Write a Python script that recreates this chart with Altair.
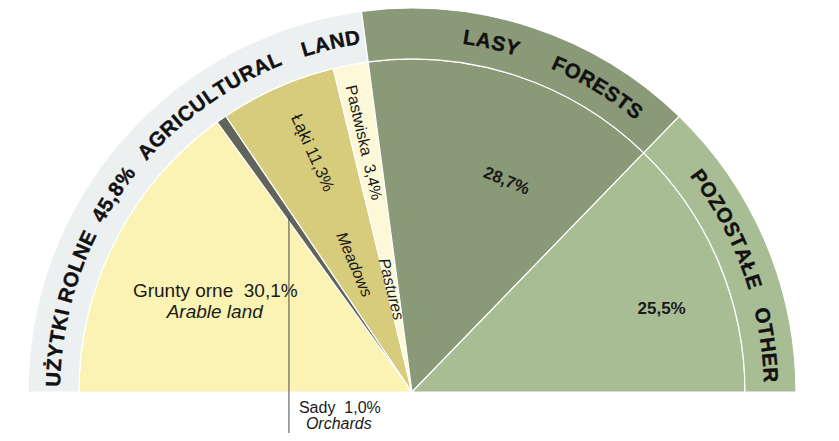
import math
import altair as alt
import pandas as pd

# ---------------- data ----------------
inner_names = ["Grunty orne", "Sady", "Łąki", "Pastwiska", "Lasy", "Pozostałe"]
inner_values = [30.1, 1.0, 11.3, 3.4, 28.7, 25.5]
ring_names = ["Użytki rolne", "Lasy", "Pozostałe"]
ring_values = [45.8, 28.7, 25.5]

ring_words = ["UŻYTKI ROLNE", "45,8%", "AGRICULTURAL", "LAND",
              "LASY", "FORESTS", "POZOSTAŁE", "OTHER"]

NB = "\u00a0"
inner_label_text = ["Grunty orne" + NB + NB + "30,1%", "Arable land", "Łąki 11,3%", "Meadows",
                    "Pastwiska" + NB + NB + "3,4%", "Pastures", "28,7%", "25,5%"]
orchard_label_text = ["Sady" + NB + NB + "1,0%", "Orchards"]

# ---------------- styling / layout ----------------
inner_colors = ["#fbf3b3", "#62635a", "#d6cc7c", "#fdf9d8", "#8a9a79", "#a9bd95"]
ring_colors = ["#edf0f0", "#8a9a79", "#a9bd95"]

W, H = 823, 425
CX, CY = 404, 384
R_OUT, R_IN, R_TXT = 384, 333, 358

# centre of each ring word, in percent along the semicircle
ring_word_pos = [7.6, 18.6, 30.4, 42.7, 57.1, 67.4, 84.8, 95.8]
# inner labels: percent position, radius, rotation, size, style
inner_label_pos = [15.06, 12.3, 37.4, 36.4, 43.9, 43.6, 63.4, 89.8]
inner_label_r = [221, 213, 259, 140, 254, 105, 231, 263]
inner_label_rot = [0, 0, 66, 67, 77, 76, 22, 0]
inner_label_size = [19, 19, 17, 16, 16, 16, 17, 17]
inner_label_style = ["n", "i", "n", "i", "n", "i", "b", "b"]

theta_scale = alt.Scale(domain=[0, 100], range=[-math.pi / 2, math.pi / 2])

BOLD_W = {"A": 722, "B": 722, "C": 722, "D": 722, "E": 667, "F": 611, "G": 778,
          "H": 722, "I": 278, "K": 722, "L": 611, "N": 722, "O": 778, "P": 667,
          "R": 722, "S": 667, "T": 611, "U": 722, "Y": 667, "Z": 611, "Ż": 611,
          "Ł": 611, " ": 278, ",": 278, "%": 889}
FS_RING, TRACK = 20.5, 0.8


def layout_word(word, center_pct, r):
    widths = [BOLD_W.get(c, 556) * FS_RING / 1000 for c in word]
    total = sum(widths) + TRACK * (len(word) - 1)
    s = -total / 2
    rows = []
    for c, w in zip(word, widths):
        mid = s + w / 2
        s += w + TRACK
        if c == " ":
            continue
        pos = center_pct + math.degrees(mid / r) / 1.8
        rows.append({"ch": c, "pos": pos, "rot": pos * 1.8 - 90})
    return rows


ring_chars = []
for wd, p in zip(ring_words, ring_word_pos):
    ring_chars += layout_word(wd, p, R_TXT)
ring_chars_df = pd.DataFrame(ring_chars)

inner_df = pd.DataFrame({"name": inner_names, "value": inner_values,
                         "idx": range(len(inner_values)), "col": inner_colors})
ring_df = pd.DataFrame({"name": ring_names, "value": ring_values,
                        "idx": range(len(ring_values)), "col": ring_colors})
lab_df = pd.DataFrame({"t": inner_label_text, "pos": inner_label_pos,
                       "r": inner_label_r, "rot": inner_label_rot,
                       "fs": inner_label_size, "st": inner_label_style})

cxv, cyv = alt.value(CX), alt.value(CY)

inner = alt.Chart(inner_df).mark_arc(radius=R_IN, stroke="white", strokeWidth=1.2).encode(
    theta=alt.Theta("value:Q", stack=True, scale=theta_scale),
    order=alt.Order("idx:Q"),
    color=alt.Color("col:N", scale=None),
    x=cxv, y=cyv,
)
ring = alt.Chart(ring_df).mark_arc(radius=R_OUT, radius2=R_IN, stroke="white", strokeWidth=1.2).encode(
    theta=alt.Theta("value:Q", stack=True, scale=theta_scale),
    order=alt.Order("idx:Q"),
    color=alt.Color("col:N", scale=None),
    x=cxv, y=cyv,
)

ring_text = alt.Chart(ring_chars_df).mark_text(
    radius=R_TXT, font="Liberation Sans", fontWeight="bold", fontSize=FS_RING,
    align="center", baseline="middle", color="#111111", stroke="#111111", strokeWidth=0.4
).encode(
    theta=alt.Theta("pos:Q", stack=None, scale=theta_scale),
    angle=alt.Angle("rot:Q", scale=None),
    text="ch:N", x=cxv, y=cyv,
)


def label_layer(style):
    kw = {"fontStyle": "italic"} if style == "i" else {}
    if style == "b":
        kw["fontWeight"] = "bold"
    return alt.Chart(lab_df).transform_filter(alt.datum.st == style).mark_text(
        font="Liberation Sans", align="center", baseline="middle", color="#1a1a1a", **kw
    ).encode(
        theta=alt.Theta("pos:Q", stack=None, scale=theta_scale),
        radius=alt.Radius("r:Q", scale=None),
        angle=alt.Angle("rot:Q", scale=None),
        size=alt.Size("fs:Q", scale=None),
        text="t:N", x=cxv, y=cyv,
    )


# leader line for the orchards slice
orch_pct = inner_values[0] + inner_values[1] / 2
t = math.radians(orch_pct * 1.8 - 90)
LEAD_R = 215
lx = CX + LEAD_R * math.sin(t)
ly = CY - LEAD_R * math.cos(t)

leader = alt.Chart(pd.DataFrame({"a": [0]})).mark_rule(color="#4a4a4a", strokeWidth=1).encode(
    x=alt.value(lx), y=alt.value(ly), y2=alt.value(H)
)
orch_df = pd.DataFrame({"t": orchard_label_text})
orch1 = alt.Chart(orch_df.iloc[[0]]).mark_text(
    font="Liberation Sans", fontSize=16, align="left", baseline="middle", color="#1a1a1a"
).encode(text="t:N", x=alt.value(lx + 10), y=alt.value(400))
orch2 = alt.Chart(orch_df.iloc[[1]]).mark_text(
    font="Liberation Sans", fontSize=16, fontStyle="italic", align="left",
    baseline="middle", color="#1a1a1a"
).encode(text="t:N", x=alt.value(lx + 17), y=alt.value(416))

chart = alt.layer(
    inner, ring, ring_text, label_layer("n"), label_layer("i"), label_layer("b"),
    leader, orch1, orch2
).properties(
    width=W, height=H, autosize=alt.AutoSizeParams(type="none"), padding=0
).configure_view(stroke=None)

chart.save("out.html", embed_options={"renderer": "svg", "actions": False})
